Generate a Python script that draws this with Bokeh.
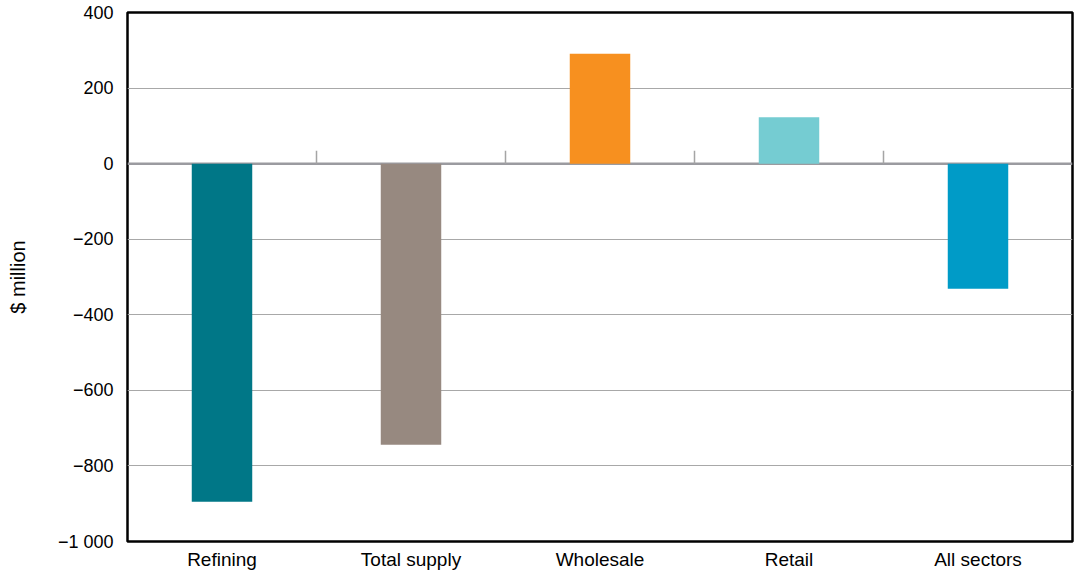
import math
from bokeh.plotting import figure
from bokeh.models import ColumnDataSource, FixedTicker, Span, Range1d
from bokeh.transform import dodge
from bokeh.embed import file_html
from bokeh.resources import INLINE

categories = ["Refining", "Total supply", "Wholesale", "Retail", "All sectors"]
values = [-895, -744, 291, 123, -331]
colors = ["#007787", "#978980", "#f7901f", "#75ccd2", "#009bc7"]
y_ticks = [400, 200, 0, -200, -400, -600, -800, -1000]
y_tick_labels = ["400", "200", "0", "\u2212200", "\u2212400", "\u2212600", "\u2212800", "\u22121 000"]

FONT = "Liberation Sans"

src = ColumnDataSource(dict(cat=categories, val=values, color=colors))
sep = ColumnDataSource(dict(cat=categories[:-1], y=[0] * (len(categories) - 1)))

p = figure(x_range=categories, y_range=Range1d(-1000, 400), width=1074, height=572,
           output_backend="svg", toolbar_location=None,
           min_border_left=127, min_border_right=2, min_border_top=12, min_border_bottom=0)

p.outline_line_color = "black"
p.outline_line_width = 2.5
p.background_fill_color = "white"
p.border_fill_color = "white"

p.xgrid.grid_line_color = None
p.ygrid.grid_line_color = "#a8a8a8"
p.ygrid.grid_line_width = 1
p.yaxis.ticker = FixedTicker(ticks=y_ticks)
p.yaxis.major_label_overrides = {t: l for t, l in zip(y_ticks, y_tick_labels)}
p.ygrid.ticker = FixedTicker(ticks=[200, -200, -400, -600, -800])

zero = Span(location=0, dimension="width", line_color="#9b9ba0", line_width=2.5, level="underlay")
p.add_layout(zero)

p.vbar(x="cat", top="val", bottom=0, width=0.32, fill_color="color", line_color=None, source=src)

p.ray(x=dodge("cat", 0.5, range=p.x_range), y="y", length=13, length_units="screen",
      angle=math.pi / 2, line_color="#a5a5a5", line_width=1.5, source=sep)

for ax in (p.xaxis, p.yaxis):
    ax.axis_line_color = None
    ax.major_tick_line_color = None
    ax.minor_tick_line_color = None
    ax.major_tick_out = 0
    ax.major_label_text_font = FONT
    ax.major_label_text_color = "black"

p.yaxis.major_label_text_font_size = "18px"
p.xaxis.major_label_text_font_size = "19px"
p.yaxis.major_label_standoff = 14
p.xaxis.major_label_standoff = 7
p.yaxis.axis_label = "$ million"
p.yaxis.axis_label_text_font = FONT
p.yaxis.axis_label_text_font_size = "20px"
p.yaxis.axis_label_text_font_style = "normal"
p.yaxis.axis_label_text_color = "black"
p.yaxis.axis_label_standoff = 26

open("out.html", "w").write(file_html(p, INLINE))
